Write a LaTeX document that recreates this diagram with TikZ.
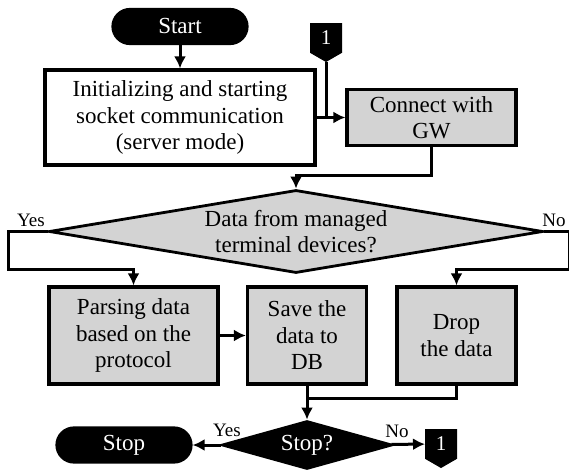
\documentclass[tikz,border=0pt]{standalone}
\usepackage{fontspec}
\setmainfont{Liberation Serif}
\usetikzlibrary{shapes.geometric, shapes.symbols, arrows.meta}
\definecolor{boxgray}{RGB}{211,211,211}
\tikzset{
	base/.style={draw, line width=3.2pt, inner sep=0pt, align=center, font=\fontsize{23}{26.5}\selectfont},
	proc/.style={base, rectangle, fill=white},
	graybox/.style={base, rectangle, fill=boxgray},
	term/.style={base, rectangle, rounded corners=17pt, fill=black, text=white, minimum width=134pt, minimum height=34pt},
	decide/.style={base, diamond, fill=boxgray, line width=2.8pt},
	conn/.style={signal, signal to=south, signal pointer angle=120, draw, fill=black, text=white, line width=1pt, minimum width=31pt, minimum height=32pt, inner sep=0pt, font=\fontsize{21}{21}\selectfont},
	line/.style={line width=3pt},
	arr/.style={line, -{Latex[length=12pt,width=12pt]}},
	lab/.style={font=\fontsize{19}{19}\selectfont}
}
\begin{document}
\begin{tikzpicture}[x=1pt, y=-1pt]
	\useasboundingbox (0,0) rectangle (569,470);
	% top part
	\node[term] (start) at (180,26.5) {Start};
	\node[proc, minimum width=270pt, minimum height=95pt] (init) at (180,117.5) {Initializing and starting\\socket communication\\(server mode)};
	\node[conn] (c1) at (326,38) {1};
	\node[graybox, minimum width=169pt, minimum height=56pt] (gw) at (431.5,117.5) {Connect with\\GW};
	\draw[arr] (start) -- (init);
	\draw[arr] (init) -- (gw);
	\draw[line] (c1.south) -- (c1.south |- gw.west);
	% decision
	\node[decide, aspect=5.95, minimum width=494pt, minimum height=83pt] (check) at (296,231.5) {Data from managed\\terminal devices?};
	\draw[arr] (gw.south) -- ++(0,28) -| (check.north);
	\node[lab] (yes1) at (31,220) {Yes};
	\node[lab] (no1) at (554,220) {No};
	% three boxes
	\node[graybox, minimum width=169pt, minimum height=97pt] (parse) at (133.5,335.5) {Parsing data\\based on the\\protocol};
	\node[graybox, minimum width=119pt, minimum height=97pt] (save) at (307,335.5) {Save the\\data to\\DB};
	\node[graybox, minimum width=119pt, minimum height=97pt] (drop) at (456.5,335.5) {Drop\\the data};
	\draw[arr] (check.west) -- ++(-39,0) -- ++(0,38) -| (parse.north);
	\draw[arr] (check.east) -- ++(25,0) -- ++(0,38) -| (drop.north);
	\draw[arr] (parse) -- (save);
	% end
	\node[decide, aspect=3.54, fill=black, text=white, minimum width=170pt, minimum height=48pt] (halt) at (307,445) {Stop?};
	\node[term] (stop) at (124,445) {Stop};
	\node[conn] (c2) at (441,444) {1};
	\draw[arr] (save) -- (halt);
	\draw[line] (drop.south) -- ++(0,13) -| (save.south);
	\draw[arr] (halt) -- (stop);
	\draw[arr] (halt) -- (c2);
	\node[lab] (yes2) at (227,430) {Yes};
	\node[lab] (no2) at (397,431) {No};
\end{tikzpicture}
\end{document}
